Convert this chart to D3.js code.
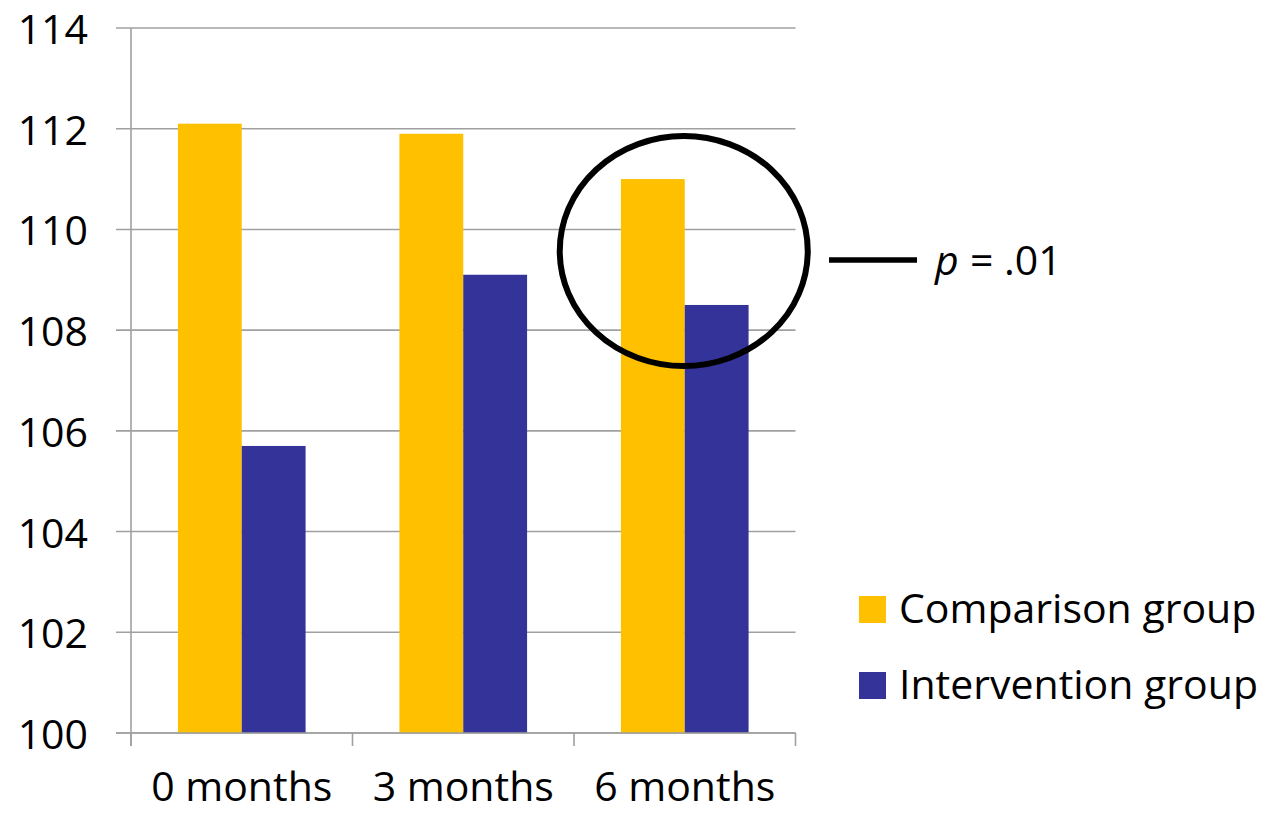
<!DOCTYPE html>
<html>
<head>
<meta charset="utf-8">
<script src="https://cdn.jsdelivr.net/npm/d3@7"></script>
<style>
  html, body { margin: 0; padding: 0; background: #fff; }
  svg { display: block; font-family: "Open Sans", sans-serif; }
</style>
</head>
<body>
<svg id="chart" width="1268" height="813"></svg>
<script>
// Time points and group means
const categories = ["0 months", "3 months", "6 months"];
const seriesNames = ["Comparison group", "Intervention group"];
const comparisonValues = [112.1, 111.9, 111.0];
const interventionValues = [105.7, 109.1, 108.5];
const yTicks = [100, 102, 104, 106, 108, 110, 112, 114];
const annotationText = "= .01";

const colors = ["#FFC000", "#333399"];
const series = [comparisonValues, interventionValues];

const svg = d3.select("#chart");
const plotLeft = 131, plotRight = 795.5, plotTop = 28, plotBottom = 733;

const y = d3.scaleLinear().domain([100, 114]).range([plotBottom, plotTop]);
const x0 = d3.scaleBand().domain(categories).range([plotLeft, plotRight]).padding(0);
const bw = x0.bandwidth();
const gapFrac = 1.47 / (2 + 1.47);
const x1 = d3.scaleBand().domain(seriesNames)
  .range([bw * gapFrac / 2, bw * (1 - gapFrac / 2)]).padding(0);

const gridColor = "#a0a0a0";

// Horizontal gridlines with short left tick marks
svg.append("g").selectAll("line").data(yTicks).join("line")
  .attr("x1", plotLeft - 15).attr("x2", plotRight)
  .attr("y1", d => y(d)).attr("y2", d => y(d))
  .attr("stroke", gridColor).attr("stroke-width", 1.6);

// Y tick labels
svg.append("g").selectAll("text").data(yTicks).join("text")
  .attr("x", 88).attr("y", d => y(d))
  .attr("text-anchor", "end").attr("dominant-baseline", "central")
  .attr("font-size", 41).attr("fill", "#000")
  .text(d => d);

// Bars
const groups = svg.append("g").selectAll("g").data(categories).join("g")
  .attr("transform", c => `translate(${x0(c)},0)`);
groups.selectAll("rect")
  .data((c, i) => seriesNames.map((s, j) => ({ s, v: series[j][i], j })))
  .join("rect")
  .attr("x", d => x1(d.s))
  .attr("width", x1.bandwidth())
  .attr("y", d => y(d.v))
  .attr("height", d => y(100) - y(d.v))
  .attr("fill", d => colors[d.j]);

// Axis lines
svg.append("line")
  .attr("x1", plotLeft).attr("x2", plotLeft).attr("y1", plotTop).attr("y2", plotBottom + 13)
  .attr("stroke", gridColor).attr("stroke-width", 1.6);
svg.append("line")
  .attr("x1", plotLeft - 15).attr("x2", plotRight).attr("y1", plotBottom).attr("y2", plotBottom)
  .attr("stroke", gridColor).attr("stroke-width", 1.6);

// Category dividers below the axis
const dividers = categories.map(c => x0(c)).concat([plotRight]);
svg.append("g").selectAll("line").data(dividers).join("line")
  .attr("x1", d => d).attr("x2", d => d)
  .attr("y1", plotBottom).attr("y2", plotBottom + 13)
  .attr("stroke", gridColor).attr("stroke-width", 1.6);

// Category labels
svg.append("g").selectAll("text").data(categories).join("text")
  .attr("x", c => x0(c) + bw / 2).attr("y", 801)
  .attr("text-anchor", "middle")
  .attr("font-size", 41).attr("fill", "#000")
  .text(c => c);

// Legend
const legend = svg.append("g").selectAll("g").data(seriesNames).join("g")
  .attr("transform", (d, i) => `translate(859,${596 + i * 76})`);
legend.append("rect").attr("width", 27).attr("height", 27)
  .attr("fill", (d, i) => colors[i]);
legend.append("text").attr("x", 40).attr("y", 27)
  .attr("font-size", 41).attr("fill", "#000")
  .text(d => d);

// Significance callout around the 6-month pair
const last = categories[2];
const cx = x0(last) + bw / 2 - 1;
const cy = (y(comparisonValues[2]) + y(interventionValues[2])) / 2 + 9;
svg.append("ellipse")
  .attr("cx", cx).attr("cy", cy).attr("rx", 124).attr("ry", 115)
  .attr("fill", "none").attr("stroke", "#000").attr("stroke-width", 6);
svg.append("line")
  .attr("x1", 829).attr("x2", 917).attr("y1", 260).attr("y2", 260)
  .attr("stroke", "#000").attr("stroke-width", 5.5);
const ann = svg.append("text").attr("y", 275)
  .attr("font-size", 41).attr("fill", "#000");
ann.append("tspan").attr("x", 935).attr("font-style", "italic").text("p");
ann.append("tspan").attr("x", 970).text(annotationText);
</script>
</body>
</html>
